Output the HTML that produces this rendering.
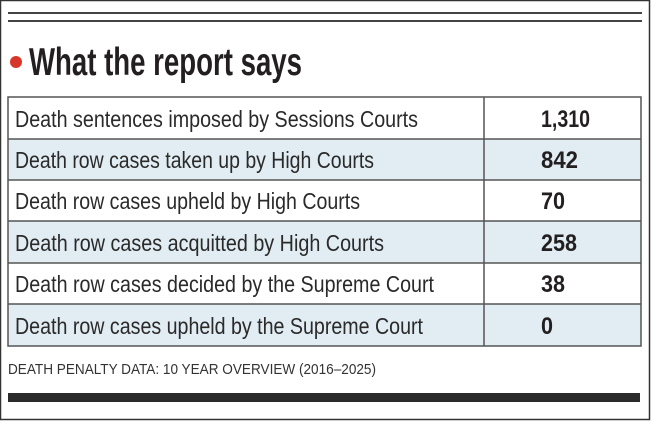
<!DOCTYPE html>
<html><head><meta charset="utf-8"><style>html,body{margin:0;padding:0;background:#fff}</style></head>
<body>
<svg width="651" height="421" viewBox="0 0 651 421" xmlns="http://www.w3.org/2000/svg" style="display:block">
<rect x="0.5" y="0.5" width="649" height="419" fill="#fff" stroke="#333" stroke-width="1.5"/>
<rect x="8" y="12" width="634" height="2" fill="#444"/>
<rect x="8" y="20" width="634" height="2" fill="#444"/>
<circle cx="16" cy="62" r="6" fill="#d9362b"/>
<text x="29" y="75" font-family="'Liberation Sans Narrow','Liberation Sans',sans-serif" font-weight="bold" font-size="39" fill="#231f20" textLength="273" lengthAdjust="spacingAndGlyphs">What the report says</text>
<g stroke="#555" stroke-width="1.5">
<rect x="8" y="139" width="633" height="41" fill="#e1edf3" stroke="none"/>
<rect x="8" y="221" width="633" height="42" fill="#e1edf3" stroke="none"/>
<rect x="8" y="304" width="633" height="42" fill="#e1edf3" stroke="none"/>
<rect x="8" y="97" width="633" height="249" fill="none"/>
<line x1="8" y1="139" x2="641" y2="139"/>
<line x1="8" y1="180" x2="641" y2="180"/>
<line x1="8" y1="221" x2="641" y2="221"/>
<line x1="8" y1="263" x2="641" y2="263"/>
<line x1="8" y1="304" x2="641" y2="304"/>
<line x1="484" y1="97" x2="484" y2="346"/>
</g>
<g font-family="'Liberation Sans Narrow','Liberation Sans',sans-serif" font-size="23" fill="#2a2a2a">
<text x="15" y="127" textLength="403" lengthAdjust="spacingAndGlyphs">Death sentences imposed by Sessions Courts</text>
<text x="15" y="168" textLength="359" lengthAdjust="spacingAndGlyphs">Death row cases taken up by High Courts</text>
<text x="15" y="209" textLength="345" lengthAdjust="spacingAndGlyphs">Death row cases upheld by High Courts</text>
<text x="15" y="251" textLength="369" lengthAdjust="spacingAndGlyphs">Death row cases acquitted by High Courts</text>
<text x="15" y="292" textLength="419" lengthAdjust="spacingAndGlyphs">Death row cases decided by the Supreme Court</text>
<text x="15" y="334" textLength="408" lengthAdjust="spacingAndGlyphs">Death row cases upheld by the Supreme Court</text>
</g>
<g font-family="'Liberation Sans Narrow','Liberation Sans',sans-serif" font-size="24" font-weight="bold" fill="#231f20">
<text x="541" y="127" textLength="49" lengthAdjust="spacingAndGlyphs">1,310</text>
<text x="541" y="168" textLength="37" lengthAdjust="spacingAndGlyphs">842</text>
<text x="541" y="209" textLength="24" lengthAdjust="spacingAndGlyphs">70</text>
<text x="541" y="251" textLength="36" lengthAdjust="spacingAndGlyphs">258</text>
<text x="541" y="292" textLength="24" lengthAdjust="spacingAndGlyphs">38</text>
<text x="541" y="334" textLength="12" lengthAdjust="spacingAndGlyphs">0</text>
</g>
<text x="8" y="374" font-family="'Liberation Sans Narrow','Liberation Sans',sans-serif" font-size="15" fill="#333" textLength="368" lengthAdjust="spacingAndGlyphs">DEATH PENALTY DATA: 10 YEAR OVERVIEW (2016–2025)</text>
<rect x="8" y="393" width="632" height="9" fill="#2b2b2b"/>
</svg>
</body></html>
